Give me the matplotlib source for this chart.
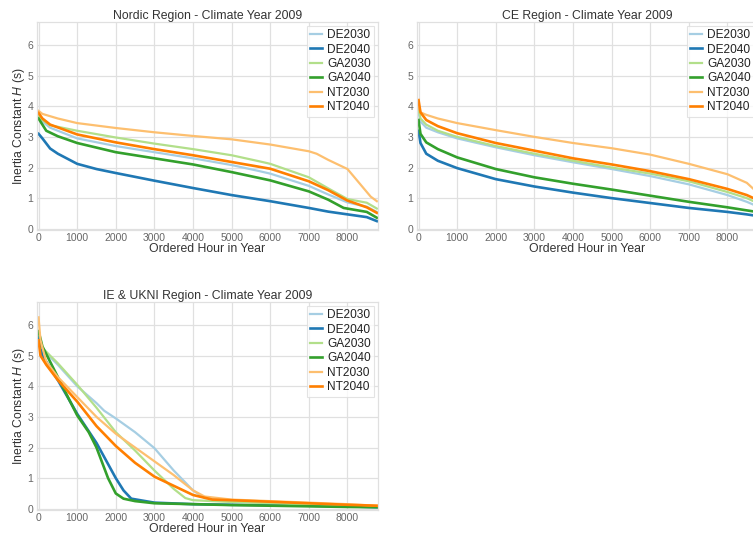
import matplotlib
matplotlib.use("Agg")
import matplotlib.pyplot as plt

plt.rcParams['font.family'] = ['Liberation Sans', 'DejaVu Sans']
plt.rcParams['mathtext.fontset'] = 'custom'
plt.rcParams['mathtext.rm'] = 'Liberation Sans'
plt.rcParams['mathtext.it'] = 'Liberation Sans:italic'

scenarios = ["DE2030", "DE2040", "GA2030", "GA2040", "NT2030", "NT2040"]
colors = ["#a6cee3", "#1f78b4", "#b2df8a", "#33a02c", "#fdbf6f", "#ff7f00"]
widths = [1.6, 1.9, 1.6, 1.9, 1.6, 1.9]

# ---------------- Nordic ----------------
nordic_hours = {
    "DE2030": [0, 100, 300, 1000, 2000, 3000, 4000, 5000, 5725, 6000, 7000, 7500, 8000, 8500, 8760],
    "DE2040": [0, 100, 300, 500, 1000, 1500, 2000, 3000, 4000, 5000, 6000, 7000, 7500, 8000, 8500, 8760],
    "GA2030": [0, 100, 300, 1000, 2000, 3000, 4000, 5000, 5725, 6000, 7000, 7500, 8000, 8500, 8760],
    "GA2040": [0, 200, 500, 1000, 2000, 3000, 4000, 5000, 6000, 7000, 7500, 7900, 8500, 8760],
    "NT2030": [0, 100, 500, 1000, 2000, 3000, 4000, 5000, 6000, 7000, 7200, 7500, 8000, 8300, 8600, 8760],
    "NT2040": [0, 100, 300, 1000, 2000, 3000, 4000, 5000, 6000, 7000, 7500, 8000, 8500, 8760],
}
nordic_vals = {
    "DE2030": [3.70, 3.50, 3.30, 2.95, 2.70, 2.50, 2.30, 2.08, 1.88, 1.80, 1.40, 1.12, 0.86, 0.72, 0.55],
    "DE2040": [3.10, 2.95, 2.62, 2.45, 2.12, 1.95, 1.82, 1.57, 1.33, 1.10, 0.90, 0.68, 0.56, 0.47, 0.38, 0.25],
    "GA2030": [3.70, 3.55, 3.38, 3.20, 2.98, 2.78, 2.60, 2.40, 2.20, 2.12, 1.68, 1.32, 0.97, 0.85, 0.66],
    "GA2040": [3.60, 3.20, 3.02, 2.80, 2.50, 2.30, 2.10, 1.85, 1.58, 1.22, 0.95, 0.68, 0.55, 0.36],
    "NT2030": [3.85, 3.75, 3.60, 3.45, 3.29, 3.15, 3.03, 2.92, 2.75, 2.53, 2.45, 2.25, 1.95, 1.50, 1.05, 0.90],
    "NT2040": [3.78, 3.60, 3.40, 3.08, 2.82, 2.60, 2.40, 2.18, 1.96, 1.55, 1.26, 0.92, 0.70, 0.52],
}

# ---------------- CE ----------------
ce_hours = [0, 50, 200, 500, 1000, 2000, 3000, 4000, 5000, 6000, 7000, 8000, 8500, 8760]
ce_vals = {
    "DE2030": [3.80, 3.50, 3.30, 3.15, 2.95, 2.66, 2.40, 2.17, 1.95, 1.72, 1.45, 1.10, 0.88, 0.74],
    "DE2040": [3.20, 2.80, 2.45, 2.22, 1.98, 1.62, 1.38, 1.18, 1.00, 0.84, 0.68, 0.55, 0.47, 0.42],
    "GA2030": [3.90, 3.60, 3.40, 3.20, 3.00, 2.70, 2.45, 2.22, 2.00, 1.80, 1.55, 1.20, 1.00, 0.85],
    "GA2040": [3.55, 3.10, 2.82, 2.60, 2.33, 1.95, 1.68, 1.47, 1.28, 1.08, 0.88, 0.70, 0.60, 0.55],
    "NT2030": [4.00, 3.80, 3.72, 3.60, 3.45, 3.22, 3.00, 2.80, 2.63, 2.42, 2.12, 1.78, 1.50, 1.20],
    "NT2040": [4.20, 3.80, 3.55, 3.35, 3.12, 2.80, 2.55, 2.30, 2.10, 1.88, 1.62, 1.30, 1.10, 0.95],
}

# ---------------- IE & UKNI ----------------
ie_hours = {
    "DE2030": [0, 100, 500, 1000, 1500, 1700, 2000, 2500, 3000, 3500, 4000, 4300, 5000, 6000, 7000, 8000, 8760],
    "DE2040": [0, 100, 500, 1000, 1500, 2000, 2200, 2400, 3000, 4000, 5000, 6000, 7000, 8000, 8760],
    "GA2030": [0, 100, 500, 1000, 1500, 2000, 2500, 3000, 3500, 3800, 4000, 5000, 6000, 7000, 8000, 8760],
    "GA2040": [0, 100, 500, 1000, 1300, 1500, 1800, 2000, 2200, 2500, 3000, 4000, 5000, 6000, 7000, 8000, 8760],
    "NT2030": [0, 50, 200, 500, 1000, 1500, 2000, 2500, 3000, 3500, 4000, 4300, 5000, 6000, 7000, 8000, 8760],
    "NT2040": [0, 50, 200, 500, 1000, 1500, 2000, 2500, 3000, 3500, 4000, 4500, 5000, 6000, 7000, 8000, 8760],
}
ie_vals = {
    "DE2030": [5.70, 5.20, 4.70, 4.00, 3.45, 3.20, 2.95, 2.50, 1.98, 1.25, 0.60, 0.35, 0.28, 0.22, 0.17, 0.12, 0.08],
    "DE2040": [5.60, 5.00, 4.20, 3.10, 2.15, 1.00, 0.60, 0.33, 0.20, 0.15, 0.13, 0.12, 0.10, 0.08, 0.05],
    "GA2030": [5.80, 5.25, 4.75, 4.05, 3.30, 2.50, 1.90, 1.25, 0.65, 0.35, 0.28, 0.22, 0.18, 0.14, 0.10, 0.07],
    "GA2040": [5.80, 5.30, 4.30, 3.05, 2.50, 2.00, 1.00, 0.50, 0.33, 0.25, 0.18, 0.15, 0.12, 0.10, 0.08, 0.06, 0.05],
    "NT2030": [6.25, 5.50, 4.80, 4.30, 3.65, 3.00, 2.45, 2.00, 1.55, 1.10, 0.60, 0.40, 0.30, 0.25, 0.20, 0.15, 0.10],
    "NT2040": [5.50, 5.00, 4.70, 4.20, 3.50, 2.70, 2.05, 1.50, 1.05, 0.75, 0.45, 0.30, 0.28, 0.23, 0.18, 0.13, 0.10],
}

titles = ["Nordic Region - Climate Year 2009", "CE Region - Climate Year 2009",
          "IE & UKNI Region - Climate Year 2009"]
xticks = [0, 1000, 2000, 3000, 4000, 5000, 6000, 7000, 8000]
yticks = [0, 1, 2, 3, 4, 5, 6]

W, H = 753, 535
fig = plt.figure(figsize=(W / 100, H / 100), dpi=100)

def px_axes(x0, y0, x1, y1):
    return fig.add_axes([x0 / W, 1 - y1 / H, (x1 - x0) / W, (y1 - y0) / H])

ax_n = px_axes(37, 22, 378, 230)
ax_c = px_axes(417, 22, 758, 230)
ax_i = px_axes(37, 302, 378, 510)

datasets = [
    (ax_n, nordic_hours, nordic_vals, True),
    (ax_c, {s: ce_hours for s in scenarios}, ce_vals, False),
    (ax_i, ie_hours, ie_vals, True),
]

for (ax, hrs, vals, ylab), title in zip(datasets, titles):
    ax.set_facecolor("white")
    for s, c, lw in zip(scenarios, colors, widths):
        ax.plot(hrs[s], vals[s], color=c, lw=lw, label=s, solid_joinstyle='round')
    ax.set_xlim(-40, 8790)
    ax.set_ylim(-0.04, 6.75)
    ax.set_xticks(xticks)
    ax.set_yticks(yticks)
    ax.grid(True, color="#e0e0e0", lw=0.9)
    ax.set_axisbelow(True)
    for sp in ax.spines.values():
        sp.set_color("#e0e0e0")
        sp.set_linewidth(0.9)
    ax.tick_params(axis='both', length=0, labelsize=7.5, labelcolor="#666666", pad=2.5)
    ax.set_title(title, fontsize=8.8, color="#333333", pad=2)
    ax.set_xlabel("Ordered Hour in Year", fontsize=8.8, color="#333333", labelpad=0)
    if ylab:
        ax.set_ylabel("Inertia Constant $H$ (s)", fontsize=8.8, color="#333333", labelpad=0.5)
    leg = ax.legend(loc="upper right", fontsize=8.6, frameon=True, handlelength=1.0,
                    handletextpad=0.4, borderpad=0.3, labelspacing=0.2,
                    borderaxespad=0.3, fancybox=False)
    leg.get_frame().set_edgecolor("#dddddd")
    leg.get_frame().set_linewidth(0.8)
    for t in leg.get_texts():
        t.set_color("#222222")

fig.savefig("out.png", dpi=100, facecolor="white")
